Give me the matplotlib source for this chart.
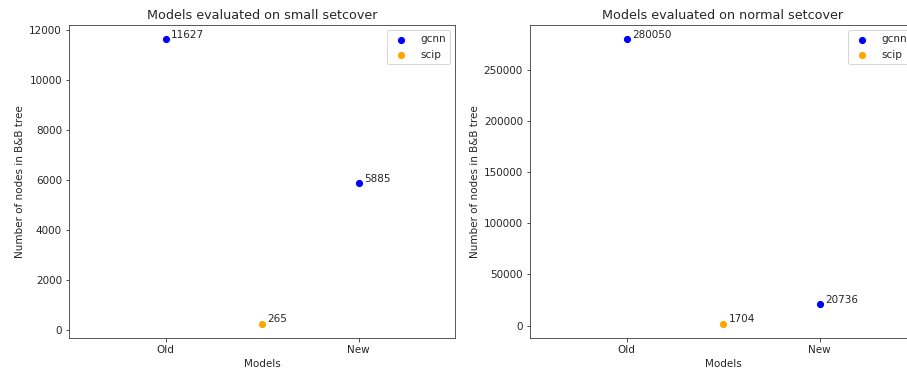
import matplotlib.pyplot as plt
import numpy as np

models = ["Old", "New"]
small_gcnn = [11627, 5885]
small_scip = [265]
normal_gcnn = [280050, 20736]
normal_scip = [1704]

panels = [
    ("Models evaluated on small setcover", small_gcnn, small_scip),
    ("Models evaluated on normal setcover", normal_gcnn, normal_scip),
]

plt.rcParams["font.size"] = 10.4
plt.rcParams["text.color"] = "#262626"
plt.rcParams["axes.labelcolor"] = "#262626"
plt.rcParams["xtick.color"] = "#262626"
plt.rcParams["ytick.color"] = "#262626"
plt.rcParams["axes.edgecolor"] = "#333333"

fig = plt.figure(figsize=(907 / 72, 374 / 72), dpi=72)
axes_pos = [
    [69 / 907, 36 / 374, 386 / 907, 313 / 374],
    [530 / 907, 36 / 374, 386 / 907, 313 / 374],
]

x_models = np.arange(len(models))
x_scip = [x_models.mean()]

for pos, (title, gcnn, scip) in zip(axes_pos, panels):
    ax = fig.add_axes(pos)
    ax.scatter(x_models, gcnn, color="blue", s=38, label="gcnn")
    ax.scatter(x_scip, scip, color="orange", s=38, label="scip")
    for x, y in zip(list(x_models) + x_scip, list(gcnn) + list(scip)):
        ax.annotate(str(y), (x, y), xytext=(5.5, 1.5), textcoords="offset points")
    ax.set_xlim(-0.5, 1.5)
    ax.set_xticks(x_models)
    ax.set_xticklabels(models)
    ax.set_title(title, fontsize=12.8)
    ax.set_xlabel("Models")
    ax.set_ylabel("Number of nodes in B&B tree")
    ax.legend(loc="upper right")

fig.savefig("out.png", dpi=72)
